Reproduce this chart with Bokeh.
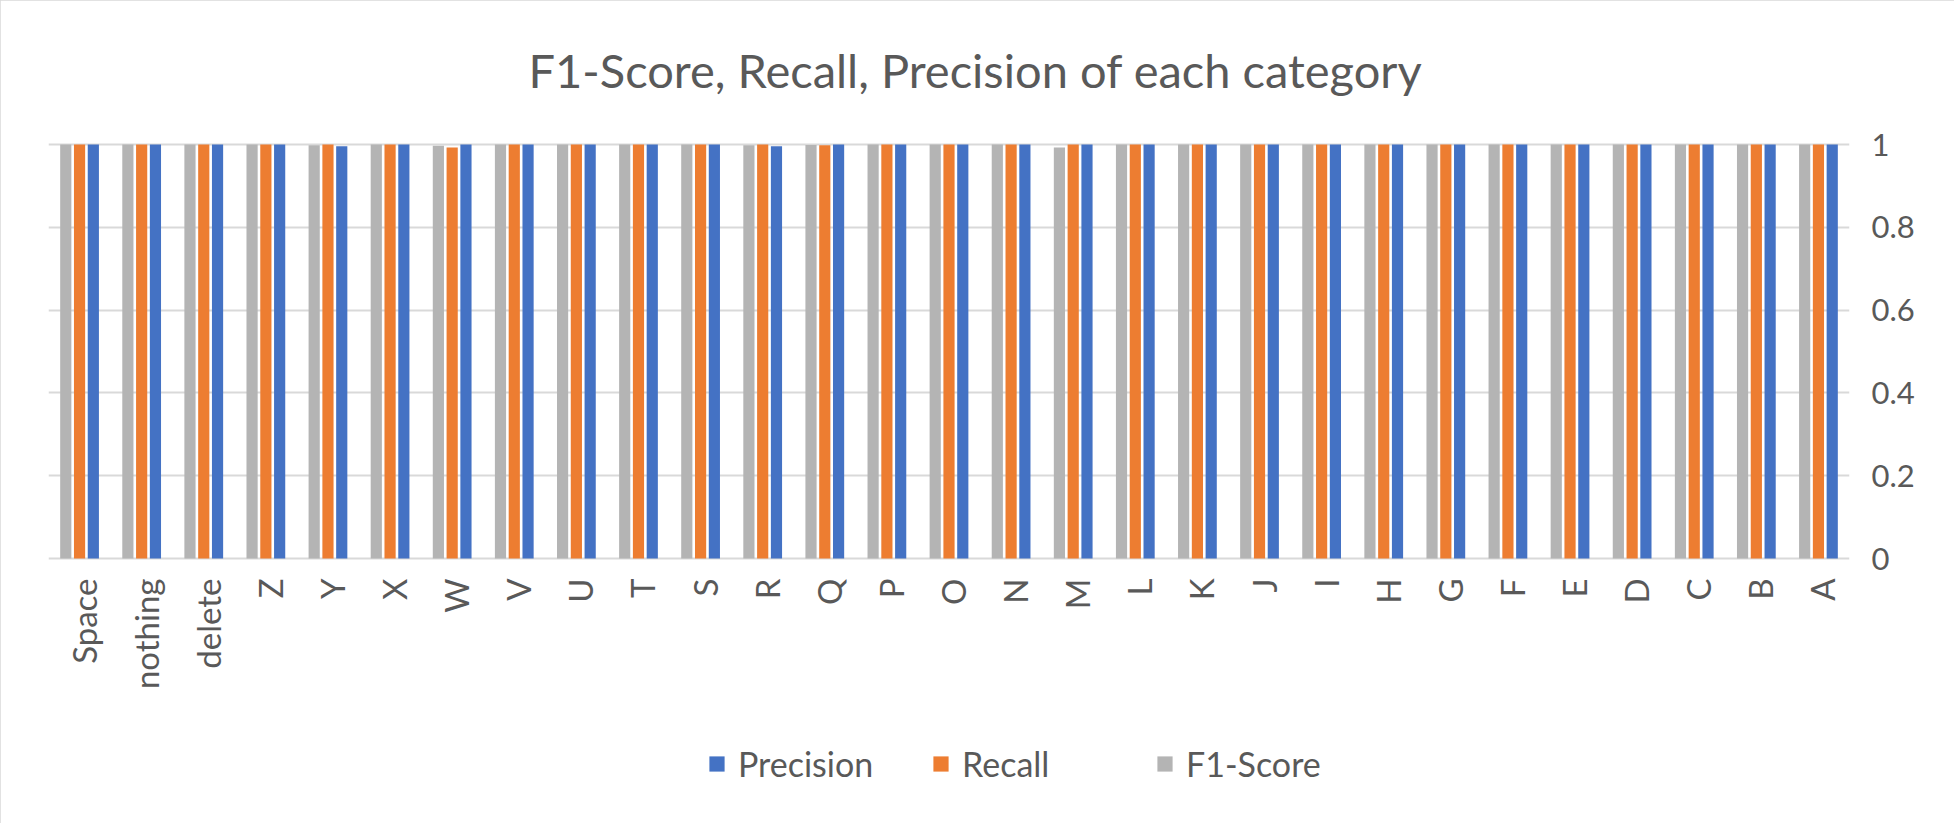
import math
from bokeh.plotting import figure
from bokeh.models import FactorRange, Range1d, Legend, LegendItem, ColumnDataSource, Label
from bokeh.core.properties import value
from bokeh.transform import dodge
from bokeh.embed import file_html
from bokeh.resources import INLINE

categories = ["Space", "nothing", "delete", "Z", "Y", "X", "W", "V", "U", "T", "S", "R", "Q",
              "P", "O", "N", "M", "L", "K", "J", "I", "H", "G", "F", "E", "D", "C", "B", "A"]
precision = [1, 1, 1, 1, 0.996, 1, 1, 1, 1, 1, 1, 0.996, 1,
             1, 1, 1, 1, 1, 1, 1, 1, 1, 1, 1, 1, 1, 1, 1, 1]
recall = [1, 1, 1, 1, 1, 1, 0.993, 1, 1, 1, 1, 1, 0.998,
          1, 1, 1, 1, 1, 1, 1, 1, 1, 1, 1, 1, 1, 1, 1, 1]
f1_score = [1, 1, 1, 1, 0.998, 1, 0.997, 1, 1, 1, 1, 0.998, 0.999,
            1, 1, 1, 0.993, 1, 1, 1, 1, 1, 1, 1, 1, 1, 1, 1, 1]
y_ticks = [0, 0.2, 0.4, 0.6, 0.8, 1]
y_tick_labels = ["0", "0.2", "0.4", "0.6", "0.8", "1"]
title_text = "F1-Score, Recall, Precision of each category"

FONT = "Lato"
TXT = "#595959"
BLUE, ORANGE, GRAY = "#4472C4", "#ED7D31", "#B4B4B4"

# page geometry (pixels)
W, H = 1954, 823
LEFT, RIGHT, TOP, BOTTOM = 48, 105, 8, 8
ONE_PX, ZERO_PX = 144, 558          # rows of the value 1 and value 0 gridlines
unit_px = ZERO_PX - ONE_PX
frame_bottom = H - BOTTOM
y_high = 1 + (ONE_PX - TOP) / unit_px
y_low = -(frame_bottom - ZERO_PX) / unit_px

src = ColumnDataSource(dict(cat=categories, precision=precision, recall=recall, f1=f1_score))

p = figure(x_range=FactorRange(*categories), y_range=Range1d(y_low, y_high),
           width=W, height=H, output_backend="svg", toolbar_location=None,
           x_axis_location=None, y_axis_location="right",
           min_border_left=LEFT, min_border_right=RIGHT, min_border_top=TOP, min_border_bottom=BOTTOM)
p.x_range.range_padding = 0
p.background_fill_color = "white"
p.border_fill_color = "white"
p.outline_line_color = None
p.styles = {"outline": "3px solid #D9D9D9", "outline-offset": "-3px"}

bw = 0.18
off = 0.222
r_f1 = p.vbar(x=dodge("cat", -off, range=p.x_range), top="f1", width=bw, source=src,
              fill_color=GRAY, line_color=None)
r_rec = p.vbar(x=dodge("cat", 0, range=p.x_range), top="recall", width=bw, source=src,
               fill_color=ORANGE, line_color=None)
r_prec = p.vbar(x=dodge("cat", off, range=p.x_range), top="precision", width=bw, source=src,
                fill_color=BLUE, line_color=None)

# category labels (vertical, reading upwards) below the zero line
p.text(x="cat", y=0, text="cat", source=src, angle=math.pi / 2,
       text_align="right", text_baseline="middle", x_offset=4, y_offset=20,
       text_font=value(FONT), text_font_size="33px", text_color=TXT)

# chart title, centred on the chart area
p.add_layout(Label(x=W / 2 - 2 - LEFT, y=frame_bottom - 69, x_units="screen", y_units="screen",
                   text=title_text, text_align="center", text_baseline="alphabetic",
                   text_font=FONT, text_font_size="47px", text_color=TXT))

p.xgrid.grid_line_color = None
p.ygrid.ticker = y_ticks
p.ygrid.grid_line_color = "#D9D9D9"
p.ygrid.grid_line_width = 2

ya = p.yaxis[0]
ya.ticker = y_ticks
ya.major_label_overrides = {float(t): s for t, s in zip(y_ticks, y_tick_labels)}
ya.axis_line_color = None
ya.major_tick_line_color = None
ya.minor_tick_line_color = None
ya.major_label_text_font = FONT
ya.major_label_text_font_size = "31px"
ya.major_label_text_color = TXT
ya.major_label_standoff = 16

legend = Legend(items=[LegendItem(label="Precision", renderers=[r_prec]),
                       LegendItem(label="Recall", renderers=[r_rec]),
                       LegendItem(label="F1-Score", renderers=[r_f1])],
                orientation="horizontal", location=(659, 31), padding=0, margin=0,
                label_text_font=FONT, label_text_font_size="34px", label_text_color=TXT,
                glyph_width=19, glyph_height=19, label_standoff=12, label_width=164, spacing=29,
                border_line_color=None, background_fill_alpha=0)
p.add_layout(legend, "center")

open("out.html", "w").write(file_html(p, INLINE))
